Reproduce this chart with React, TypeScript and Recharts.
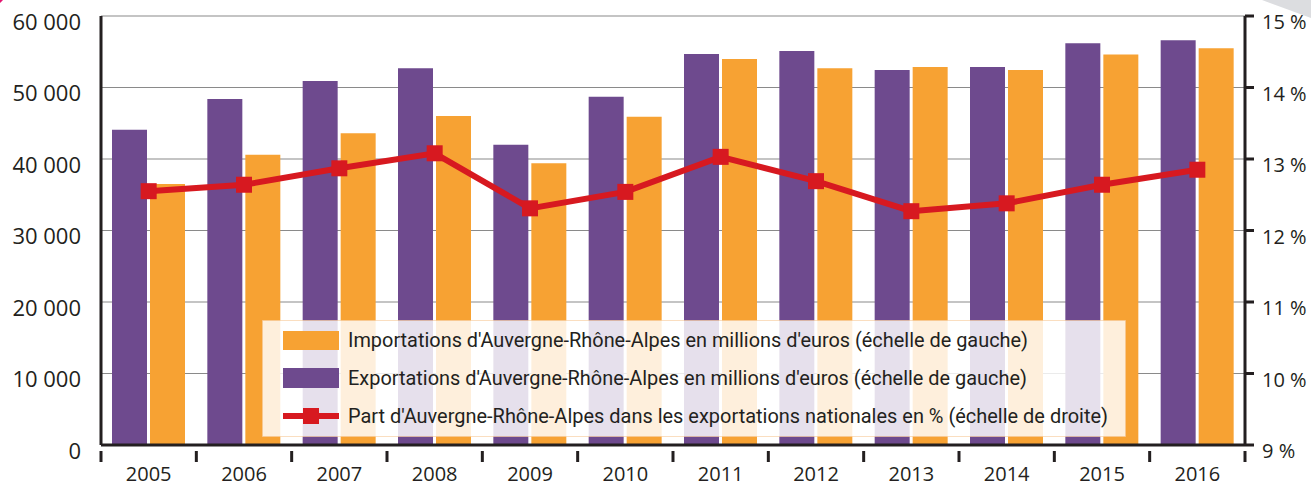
import React from 'react';
import { ComposedChart, Bar, Line, XAxis, YAxis, CartesianGrid } from 'recharts';

const years = ['2005', '2006', '2007', '2008', '2009', '2010', '2011', '2012', '2013', '2014', '2015', '2016'];
const exportsM = [44100, 48400, 50900, 52700, 42000, 48700, 54700, 55100, 52450, 52870, 56200, 56600];
const importsM = [36500, 40600, 43600, 46000, 39400, 45900, 54000, 52700, 52870, 52450, 54600, 55500];
const shareNat = [12.55, 12.64, 12.87, 13.08, 12.31, 12.54, 13.03, 12.69, 12.27, 12.38, 12.64, 12.85];

const leftTicks = [0, 10000, 20000, 30000, 40000, 50000, 60000];
const rightTicks = [9, 10, 11, 12, 13, 14, 15];

const legendLabels = [
  "Importations d'Auvergne-Rhône-Alpes en millions d'euros (échelle de gauche)",
  "Exportations d'Auvergne-Rhône-Alpes en millions d'euros (échelle de gauche)",
  "Part d'Auvergne-Rhône-Alpes dans les exportations nationales en % (échelle de droite)",
];

const PURPLE = '#6e4a8e';
const ORANGE = '#f7a233';
const RED = '#d71920';
const INK = '#231f20';
const FONT = '"Open Sans", sans-serif';

const W = 1311;
const H = 485;
const PLOT_LEFT = 101;
const PLOT_RIGHT = 1245;
const BAND = (PLOT_RIGHT - PLOT_LEFT) / years.length;

const data = years.map((y, i) => ({
  year: y,
  exp: exportsM[i],
  imp: importsM[i],
  share: shareNat[i],
}));

const fmtThousands = (v: number) => (v === 0 ? '0' : `${Math.floor(v / 1000)} ${String(v % 1000).padStart(3, '0')}`);

function YearTick(props: any) {
  const { x, y, payload, index } = props;
  const top = y - 2;
  return (
    <g>
      <line x1={x - BAND / 2} x2={x - BAND / 2} y1={top} y2={top + 11} stroke={INK} strokeWidth={3} />
      {index === years.length - 1 && (
        <line x1={x + BAND / 2} x2={x + BAND / 2} y1={top} y2={top + 11} stroke={INK} strokeWidth={3} />
      )}
      <text x={x} y={top + 30} textAnchor="middle" fill={INK} fontSize={20} fontFamily={FONT}>
        {payload.value}
      </text>
    </g>
  );
}

function SquareDot(props: any) {
  const { cx, cy } = props;
  if (cx == null || cy == null) return null;
  return <rect x={cx - 8} y={cy - 8} width={16} height={16} fill={RED} />;
}

// legend drawn as an overlay, like the semi-transparent box in the source
function LegendBox() {
  const rows = [20, 58, 96];
  const widths = [680, 679, 760];
  return (
    <svg width={864} height={117} style={{ position: 'absolute', left: 262, top: 320 }}>
      <rect x={0.5} y={0.5} width={863} height={116} fill="rgba(255,255,255,0.83)" stroke="rgba(247,200,150,0.6)" />
      <rect x={21} y={rows[0] - 9} width={56} height={19} fill={ORANGE} />
      <rect x={21} y={rows[1] - 10} width={56} height={20} fill={PURPLE} />
      <line x1={21} x2={77} y1={rows[2]} y2={rows[2]} stroke={RED} strokeWidth={6} />
      <rect x={41} y={rows[2] - 8} width={16} height={16} fill={RED} />
      {legendLabels.map((t, i) => (
        <text
          key={t}
          x={86}
          y={rows[i] + 7}
          fontSize={21}
          fontFamily="Roboto, sans-serif"
          fill={INK}
          textLength={widths[i]}
          lengthAdjust="spacingAndGlyphs"
        >
          {t}
        </text>
      ))}
    </svg>
  );
}

export default function App() {
  return (
    <div style={{ position: 'absolute', left: 0, top: 0, width: W, height: H, background: '#fff', overflow: 'hidden' }}>
      <svg width={W} height={H} style={{ position: 'absolute', left: 0, top: 0 }}>
        <circle cx={-14} cy={-14} r={22} fill="#e3156f" />
        <polygon points="1262,0 1311,0 1311,18" fill="#dcdde0" />
      </svg>
      <ComposedChart
        width={W}
        height={H}
        data={data}
        margin={{ top: 16, right: 0, bottom: 0, left: 0 }}
        barGap={3}
        barCategoryGap={11}
        style={{ position: 'absolute', left: 0, top: 0 }}
      >
        <CartesianGrid vertical={false} stroke="#8a8a8a" strokeWidth={1.2} yAxisId="left" />
        <XAxis
          dataKey="year"
          height={40}
          axisLine={{ stroke: INK, strokeWidth: 3 }}
          tickLine={false}
          tick={<YearTick />}
          interval={0}
        />
        <YAxis
          yAxisId="left"
          width={PLOT_LEFT}
          domain={[0, 60000]}
          ticks={leftTicks}
          tickFormatter={fmtThousands}
          axisLine={{ stroke: INK, strokeWidth: 3 }}
          tickLine={false}
          tickSize={0}
          tickMargin={20}
          tick={{ fill: INK, fontSize: 22, fontFamily: FONT, dy: 6 }}
        />
        <YAxis
          yAxisId="right"
          orientation="right"
          width={W - PLOT_RIGHT}
          domain={[9, 15]}
          ticks={rightTicks}
          tickFormatter={(v: number) => `${v} %`}
          axisLine={{ stroke: INK, strokeWidth: 3 }}
          tickLine={{ stroke: INK, strokeWidth: 3 }}
          tickSize={9}
          tickMargin={8}
          tick={{ fill: INK, fontSize: 20, fontFamily: FONT, dy: 6 }}
        />
        <Bar yAxisId="left" dataKey="exp" fill={PURPLE} barSize={35} isAnimationActive={false} />
        <Bar yAxisId="left" dataKey="imp" fill={ORANGE} barSize={35} isAnimationActive={false} />
        <Line
          yAxisId="right"
          dataKey="share"
          stroke={RED}
          strokeWidth={6}
          dot={<SquareDot />}
          activeDot={false}
          isAnimationActive={false}
        />
      </ComposedChart>
      <LegendBox />
    </div>
  );
}
